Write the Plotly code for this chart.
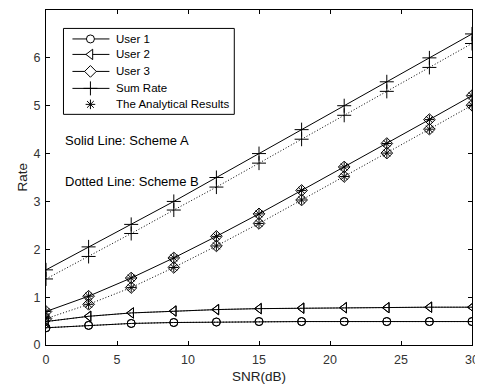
import plotly.graph_objects as go

snr = [0, 3, 6, 9, 12, 15, 18, 21, 24, 27, 30]
user1_a = [0.36, 0.41, 0.45, 0.47, 0.48, 0.49, 0.49, 0.49, 0.49, 0.49, 0.49]
user1_b = [0.36, 0.41, 0.45, 0.47, 0.48, 0.49, 0.49, 0.49, 0.49, 0.49, 0.49]
user2_a = [0.49, 0.60, 0.67, 0.71, 0.74, 0.76, 0.77, 0.78, 0.78, 0.79, 0.79]
user2_b = [0.49, 0.60, 0.67, 0.71, 0.74, 0.76, 0.77, 0.78, 0.78, 0.79, 0.79]
user3_a = [0.70, 1.02, 1.40, 1.82, 2.27, 2.74, 3.23, 3.72, 4.21, 4.71, 5.21]
user3_b = [0.55, 0.85, 1.20, 1.62, 2.07, 2.54, 3.03, 3.52, 4.01, 4.51, 5.01]
sum_a = [1.57, 2.05, 2.52, 3.00, 3.50, 4.00, 4.50, 5.00, 5.50, 6.00, 6.50]
sum_b = [1.38, 1.85, 2.33, 2.82, 3.30, 3.80, 4.30, 4.80, 5.30, 5.80, 6.30]
legend_names = ["User 1", "User 2", "User 3", "Sum Rate", "The Analytical Results"]
x_ticks = [0, 5, 10, 15, 20, 25, 30]
y_ticks = [0, 1, 2, 3, 4, 5, 6, 7]

fig = go.Figure()
series = [
    ("User 1", user1_a, user1_b, "circle-open", 8),
    ("User 2", user2_a, user2_b, "triangle-left-open", 9),
    ("User 3", user3_a, user3_b, "diamond-open", 9),
    ("Sum Rate", sum_a, sum_b, "cross-thin-open", 10),
]
for name, ya, yb, sym, sz in series:
    fig.add_trace(go.Scatter(x=snr, y=ya, mode="lines+markers", name=name, showlegend=False,
                             line=dict(color="black", width=1),
                             marker=dict(symbol=sym, size=sz, color="black",
                                         line=dict(width=1, color="black"))))
    fig.add_trace(go.Scatter(x=snr, y=yb, mode="lines+markers", showlegend=False,
                             line=dict(color="black", width=1, dash="1px,2px"),
                             marker=dict(symbol=sym, size=sz, color="black",
                                         line=dict(width=1, color="black"))))

# analytical results
fig.add_trace(go.Scatter(x=snr + snr, y=user3_a + user3_b, mode="markers",
                         name="The Analytical Results", showlegend=False,
                         marker=dict(symbol="asterisk-open", size=8, color="black",
                                     line=dict(width=1, color="black"))))

# ---- custom legend drawn on an overlay axis in plot-area fractions ----
leg_x0, leg_x1, leg_y0, leg_y1 = 0.041, 0.442, 0.6885, 0.945
row_y = [0.9136, 0.8674, 0.8167, 0.766, 0.7183]
line_x0, line_x1, mark_x, text_x = 0.0621, 0.1489, 0.1043, 0.1606
fig.add_shape(type="rect", xref="x2", yref="y2", x0=leg_x0, x1=leg_x1, y0=leg_y0, y1=leg_y1,
              line=dict(color="black", width=1), fillcolor="white", layer="below")
for i, (name, _, _, sym, sz) in enumerate(series):
    fig.add_trace(go.Scatter(x=[line_x0, line_x1], y=[row_y[i], row_y[i]], mode="lines",
                             xaxis="x2", yaxis="y2", showlegend=False, hoverinfo="skip",
                             line=dict(color="black", width=1)))
    fig.add_trace(go.Scatter(x=[mark_x], y=[row_y[i]], mode="markers",
                             xaxis="x2", yaxis="y2", showlegend=False, hoverinfo="skip",
                             marker=dict(symbol=sym.replace("-open", ""), size=sz, color="white",
                                         line=dict(width=1, color="black"))))
fig.add_trace(go.Scatter(x=[mark_x], y=[row_y[4]], mode="markers",
                         xaxis="x2", yaxis="y2", showlegend=False, hoverinfo="skip",
                         marker=dict(symbol="asterisk-open", size=8, color="black",
                                     line=dict(width=1, color="black"))))
for i, name in enumerate(legend_names):
    fig.add_annotation(x=text_x, y=row_y[i], xref="x2", yref="y2", text=name,
                       showarrow=False, xanchor="left", yanchor="middle",
                       font=dict(size=11.5, color="black"))

fig.add_annotation(x=0.040, y=0.6095, xref="paper", yref="paper", text="Solid Line: Scheme A",
                   showarrow=False, xanchor="left", yanchor="middle",
                   font=dict(size=13, color="black"))
fig.add_annotation(x=0.040, y=0.4888, xref="paper", yref="paper", text="Dotted Line: Scheme B",
                   showarrow=False, xanchor="left", yanchor="middle",
                   font=dict(size=13, color="black"))

# axis titles
fig.add_annotation(x=0.5, y=-0.093, xref="paper", yref="paper", text="SNR(dB)",
                   showarrow=False, xanchor="center", yanchor="middle", borderpad=0,
                   font=dict(size=13.5, color="#222222"))
fig.add_annotation(x=-0.0563, y=0.5, xref="paper", yref="paper", text="Rate",
                   showarrow=False, xanchor="center", yanchor="middle", textangle=-90,
                   font=dict(size=13.5, color="#222222"))

axis_common = dict(showgrid=False, zeroline=False, showline=True, linecolor="black",
                   linewidth=1, mirror="ticks", ticks="inside", ticklen=4,
                   tickcolor="black", tickfont=dict(size=12.5, color="#333333"),
                   automargin=False)
fig.update_layout(
    xaxis=dict(range=[0, 30], tickvals=x_ticks, ticklabelstandoff=3, **axis_common),
    yaxis=dict(range=[0, 7], tickvals=y_ticks, ticklabelstandoff=2, **axis_common),
    xaxis2=dict(range=[0, 1], overlaying="x", visible=False, fixedrange=True),
    yaxis2=dict(range=[0, 1], overlaying="y", visible=False, fixedrange=True, anchor="x2"),
    width=475, height=382,
    margin=dict(l=37.5, r=11, t=1.5, b=45),
    plot_bgcolor="white", paper_bgcolor="white",
    font=dict(family="Liberation Sans, Arial, sans-serif", size=11, color="black"),
    showlegend=False,
)

fig.write_html("out.html")
